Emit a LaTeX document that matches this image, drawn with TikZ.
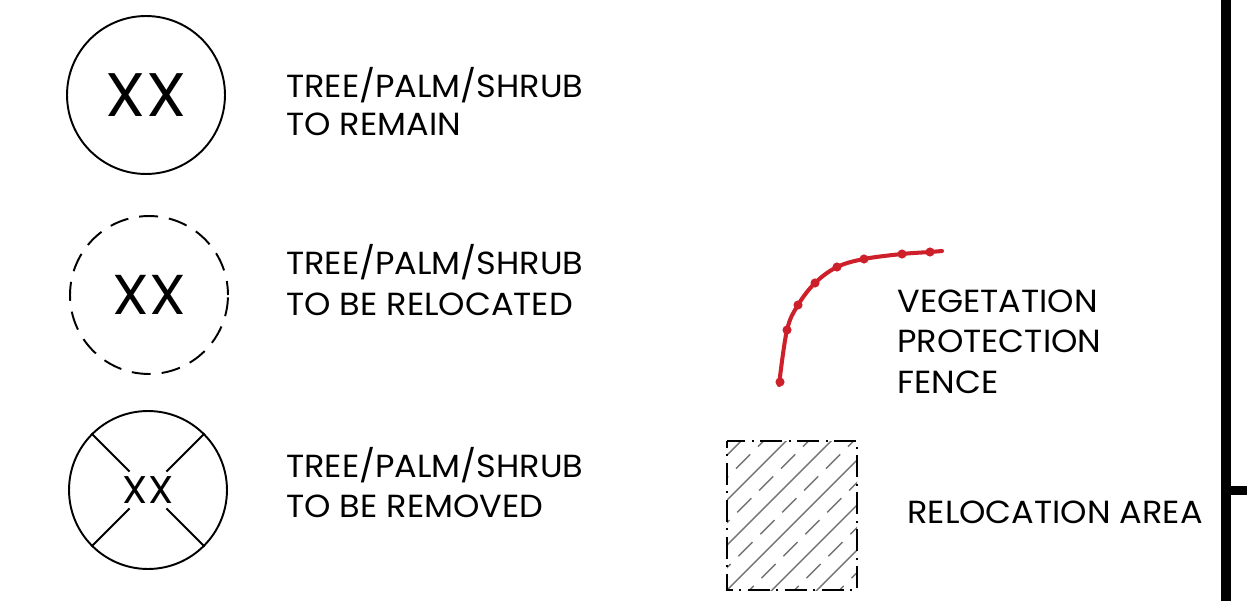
\documentclass[tikz,border=0pt]{standalone}
\usepackage{fontspec}
\setmainfont[FakeStretch=1.05]{Poppins}
\usepackage{tikz}
\usetikzlibrary{positioning}
\definecolor{fencered}{RGB}{206,32,43}

\begin{document}
\begin{tikzpicture}
		[x=0.02cm,y=-0.02cm,
		tree node/.style={circle,draw,line width=1.1pt,minimum size=3.16cm,inner sep=0pt},
		legend text/.style={anchor=base west,inner sep=0pt,font=\fontsize{18.2}{22}\selectfont},
		hatch line/.style={draw=black!55,line width=0.8pt}]
		\useasboundingbox (0,0) rectangle (1247,601);
		
		% tree symbols
		\node[tree node] (a) at (146,95) {\fontsize{35}{40}\selectfont XX};
		\node[tree node,dashed,dash pattern=on 0.38cm off 0.22cm,dash phase=0.1cm] (b) at (149,295) {\fontsize{32}{38}\selectfont XX};
		\node[tree node] (c) at (148,490) {\fontsize{22}{26}\selectfont XX};
		\foreach \ang in {45,135,225,315}
		\draw[line width=1.1pt] ([shift={(\ang:0.52cm)}]c.center) -- (c.\ang);
		
		\node[legend text] (1) at (286,98) {TREE/PALM/SHRUB};
		\node[legend text] (2) at (286,136) {TO REMAIN};
		\node[legend text] (3) at (286,275) {TREE/PALM/SHRUB};
		\node[legend text] (4) at (286,315) {TO BE RELOCATED};
		\node[legend text] (5) at (286,477) {TREE/PALM/SHRUB};
		\node[legend text] (6) at (286,517) {TO BE REMOVED};
		
		% fence
		\draw[fencered,line width=2.3pt,line cap=round] plot[smooth,tension=0.6] coordinates
		{(779,385) (787,330) (798,305) (815,283) (837,267) (864,259) (902,254) (930,252) (942,251)};
		\foreach \p in {(780,382),(787,330),(798,305),(815,283),(837,267),(864,259),(902,254),(930,252)}
		\fill[fencered] \p circle (2.6pt);
		\node[legend text] (7) at (897,312) {VEGETATION};
		\node[legend text] (8) at (897,352) {PROTECTION};
		\node[legend text] (9) at (897,393) {FENCE};
		
		% relocation area
		\begin{scope}
		\clip (727,441) rectangle (857,590);
		\foreach \c in {1182,1227,...,1452}
		\draw[hatch line] (\c-600,600) -- (\c-430,430);
		\foreach \c in {1204.5,1249.5,...,1430}
		\draw[hatch line,dash pattern=on 0.4cm off 0.22cm] (\c-600,600) -- (\c-430,430);
		\end{scope}
		\draw[line width=1.3pt,dash pattern=on 0.44cm off 0.12cm on 0.04cm off 0.14cm,dash phase=0.3cm]
		(727,441) rectangle (857,590);
		\node[legend text] (10) at (907,523) {RELOCATION AREA};
		
		% border
		\fill (1221,0) rectangle (1231,601);
		\fill (1231,486) rectangle (1247,495);
		\end{tikzpicture}
\end{document}
